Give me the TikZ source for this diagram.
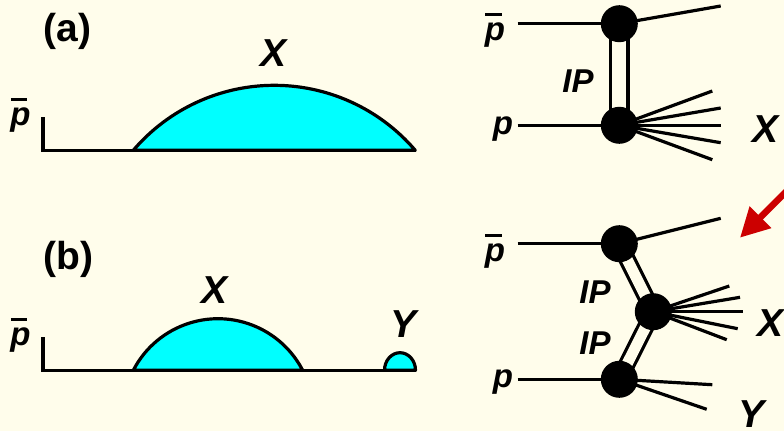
\documentclass[tikz,border=0pt]{standalone}
\usepackage{fontspec}
\setmainfont{Liberation Sans}
\usetikzlibrary{arrows.meta}
\definecolor{paper}{RGB}{255,253,235}
\definecolor{hump}{RGB}{0,255,255}
\definecolor{redarrow}{RGB}{204,0,0}
\pgfdeclarelayer{under}
\pgfdeclarelayer{ground}
\pgfsetlayers{ground,under,main}
\newcommand{\antip}{\leavevmode\rlap{\hspace{0.5pt}\rule[24.5pt]{16.5pt}{2.6pt}}p}
\tikzset{
  txt/.style={inner sep=0pt,outer sep=0pt,font=\fontsize{39}{39}\selectfont\bfseries\itshape,anchor=base,text=black},
  small/.style={txt,font=\fontsize{33}{33}\selectfont\bfseries\itshape},
  head/.style={txt,font=\fontsize{39}{39}\selectfont\bfseries},
  vtx/.style={circle,fill=black,minimum size=37pt,inner sep=0pt,outer sep=0pt},
  ln/.style={line width=3.2pt,black},
  thin ln/.style={line width=3pt,black},
  pomeron/.style={line width=3.2pt,black,double=paper},
  axisln/.style={line width=3.2pt,black,line join=miter},
  bump/.style={line width=3.2pt,black,fill=hump,line join=round},
}
\begin{document}
\begin{tikzpicture}[x=1pt,y=-1pt]
\begin{pgfonlayer}{ground}
\fill[paper] (0,0) rectangle (784,431);
\end{pgfonlayer}
\useasboundingbox (0,0) rectangle (784,431);
\clip (0,0) rectangle (784,431);

% left panels
\node[head] (la) at (67.7,41.8) {(a)};
\node[head] (lb) at (68.3,269) {(b)};
\node[txt] (xa) at (274,66) {X};
\node[txt] (xb) at (215,303) {X};
\node[txt] (yb) at (404,337) {Y};
\node[small] (pa) at (20.5,125) {\antip};
\node[small] (pb) at (20.5,345.5) {\antip};

\draw[bump] (133.3,150.3) arc[start angle=139.5,end angle=40.5,radius=185.4pt] -- cycle;
\draw[bump] (133.3,370.3) arc[start angle=152.7,end angle=27.3,radius=95.3pt] -- cycle;
\draw[bump] (384.5,370.3) arc[start angle=180,end angle=0,x radius=15.5pt,y radius=17.6pt] -- cycle;
\coordinate (a0) at (43,117.3);
\coordinate (a1) at (43,150.3);
\coordinate (a2) at (415.7,150.3);
\coordinate (b0) at (43,337.3);
\coordinate (b1) at (43,370.3);
\coordinate (b2) at (415.7,370.3);
\draw[axisln] (a0) -- (a1) -- (a2);
\draw[axisln] (b0) -- (b1) -- (b2);

% right: vertices
\node[vtx] (A) at (619.3,23.7) {};
\node[vtx] (B) at (619.3,125.3) {};
\node[vtx] (C) at (619.3,243.7) {};
\node[vtx] (D) at (653.3,311.7) {};
\node[vtx] (E) at (619.3,379.3) {};

% right: labels
\node[small] (p1) at (495,40.5) {\antip};
\node[small] (p2) at (503,134) {p};
\node[small] (p3) at (495,261) {\antip};
\node[small] (p4) at (503,387.5) {p};
\node[small] (ip1) at (578,92) {IP};
\node[small] (ip2) at (595,303) {IP};
\node[small] (ip3) at (595,354) {IP};
\node[txt] (x1) at (765,142.7) {X};
\node[txt] (x2) at (770,336.7) {X};
\node[txt] (y2) at (751.7,427.5) {Y};

% free ends
\coordinate (i1) at (517.7,23.7);
\coordinate (i2) at (517.7,125.3);
\coordinate (i3) at (517.7,243.7);
\coordinate (i4) at (517.7,379.3);
\coordinate (o1) at (720.7,6);
\coordinate (o2) at (720.7,218.3);
\coordinate (f1) at (712.3,91);
\coordinate (f2) at (720.7,108);
\coordinate (f3) at (720.7,125.3);
\coordinate (f4) at (720.7,142.7);
\coordinate (f5) at (712.3,159.7);
\coordinate (g1) at (729.3,286);
\coordinate (g2) at (740,297.3);
\coordinate (g3) at (743.3,311.7);
\coordinate (g4) at (737.7,328.7);
\coordinate (g5) at (726.7,339.7);
\coordinate (h1) at (712.3,384.7);
\coordinate (h2) at (706.7,409.3);
\coordinate (rt) at (795,182.7);
\coordinate (rh) at (740,237.7);

\begin{pgfonlayer}{under}
\draw[pomeron,double distance=14pt] (A.center) -- (B.center);
\draw[pomeron,double distance=11pt] (C.center) -- (D.center);
\draw[pomeron,double distance=11pt] (D.center) -- (E.center);
\foreach \s/\v in {i1/A,i2/B,i3/C,i4/E}{\draw[thin ln] (\s) -- (\v.center);}
\foreach \s/\v in {o1/A,o2/C,f1/B,f2/B,f3/B,f4/B,f5/B,g1/D,g2/D,g3/D,g4/D,g5/D,h1/E,h2/E}{\draw[ln] (\v.center) -- (\s);}
\end{pgfonlayer}

\draw[redarrow,line width=6.5pt,-{Triangle[length=29pt,width=29pt]}] (rt) -- (rh);
\end{tikzpicture}
\end{document}
